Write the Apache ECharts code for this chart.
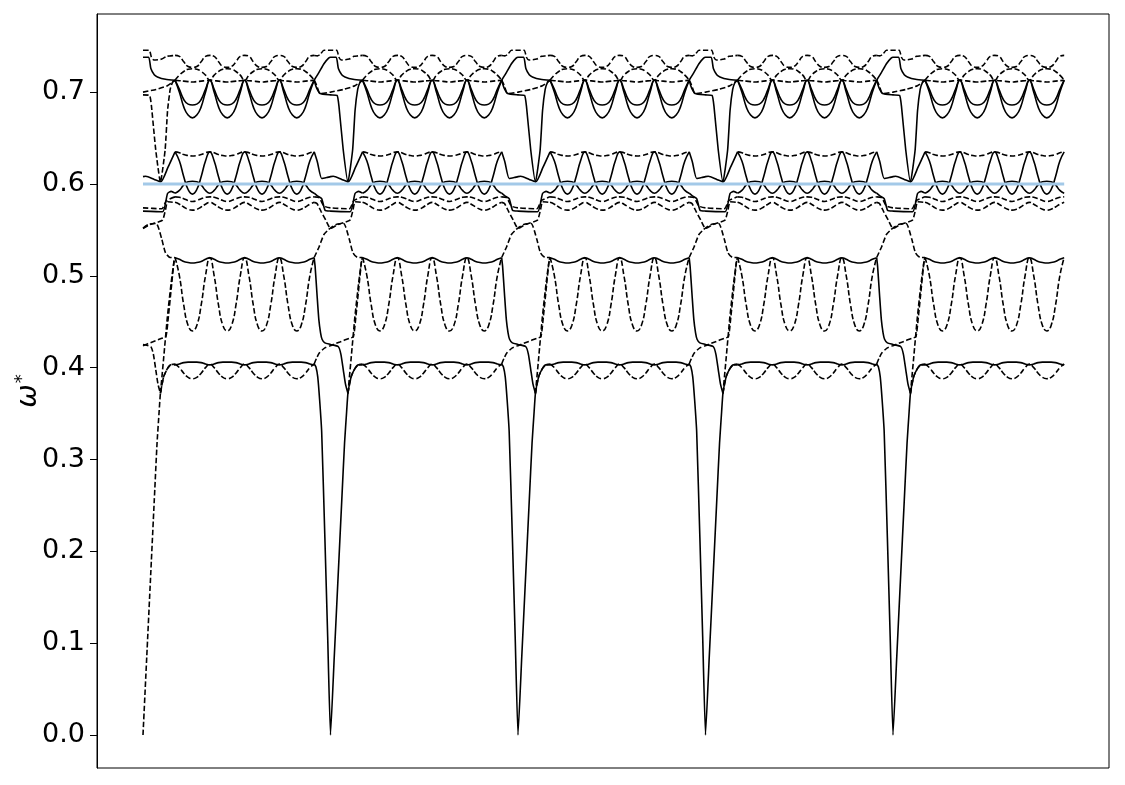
<!DOCTYPE html>
<html><head><meta charset="utf-8">
<script src="https://cdn.jsdelivr.net/npm/echarts@6/dist/echarts.min.js"></script>
<style>html,body{margin:0;padding:0;background:#fff}#c{width:1125px;height:785px}</style>
</head><body><div id="c"></div>
<script>
// Path coordinate: one unit = one repeat of the k-path; the path passes a zero at each start.
const periodStarts = [0, 1, 2, 3, 4];
const pathEnd = 4.913;
const yTicks = [0, 0.1, 0.2, 0.3, 0.4, 0.5, 0.6, 0.7];
const refLevel = 0.6;

// Flat stretch after each zero: 4 cycles between touching nodes
const flatStart = 0.171;
const cycleLength = 0.1855;
const cycleCount = 4;
const cycleFractions = [0, 0.125, 0.25, 0.375, 0.5, 0.625, 0.75, 0.875];

// Values read at cycleFractions within one cycle (same in every cycle)
const topHump   = [0.740, 0.739, 0.733, 0.728, 0.727, 0.728, 0.733, 0.739];
const topArch   = [0.713, 0.7185, 0.7225, 0.725, 0.7255, 0.725, 0.7225, 0.7185];
const topFlat   = [0.713, 0.7125, 0.712, 0.7115, 0.711, 0.7115, 0.712, 0.7125];
const innerU    = [0.713, 0.703, 0.692, 0.687, 0.686, 0.687, 0.692, 0.703];
const outerU    = [0.713, 0.700, 0.684, 0.675, 0.672, 0.675, 0.684, 0.700];
const upperDash = [0.635, 0.634, 0.632, 0.631, 0.6305, 0.631, 0.632, 0.634];
const peaks63   = [0.635, 0.625, 0.608, 0.594, 0.589, 0.594, 0.608, 0.625];
const arches60  = [0.590, 0.593, 0.599, 0.6025, 0.603, 0.6025, 0.599, 0.593];
const dash585   = [0.586, 0.5855, 0.584, 0.582, 0.581, 0.582, 0.584, 0.5855];
const dash575   = [0.580, 0.578, 0.575, 0.5725, 0.5715, 0.5725, 0.575, 0.578];
const band52    = [0.5196, 0.518, 0.5155, 0.5145, 0.514, 0.5145, 0.5155, 0.518];
const dips52    = [0.520, 0.500, 0.468, 0.446, 0.440, 0.446, 0.468, 0.500];
const band40    = [0.403, 0.404, 0.4055, 0.406, 0.406, 0.406, 0.4055, 0.404];
const dips40    = [0.404, 0.400, 0.394, 0.3895, 0.388, 0.3895, 0.394, 0.400];

// Transition stretch around each zero: [path coordinate relative to the zero, value]
const trTopDash   = [[-0.087,0.740],[-0.07,0.7395],[-0.055,0.741],[-0.035,0.7457],[0,0.7457],[0.033,0.7457],[0.045,0.738],[0.058,0.735],[0.1,0.736],[0.125,0.739],[0.148,0.7395],[0.171,0.740]];
const trTopSolid  = [[-0.087,0.713],[-0.06,0.722],[-0.035,0.731],[-0.01,0.737],[0,0.738],[0.03,0.738],[0.042,0.7257],[0.06,0.719],[0.077,0.7166],[0.12,0.714],[0.171,0.713]];
const trDrop      = [[-0.087,0.713],[-0.075,0.705],[-0.055,0.6985],[0,0.697],[0.035,0.6965],[0.045,0.685],[0.068,0.637],[0.093,0.602],[0.118,0.637],[0.131,0.68],[0.145,0.703],[0.158,0.711],[0.171,0.713]];
const trShelf     = [[-0.087,0.713],[-0.075,0.708],[-0.055,0.6985],[0,0.700],[0.07,0.703],[0.13,0.707],[0.171,0.713]];
const trPeaks     = [[-0.087,0.635],[-0.07,0.624],[-0.047,0.606],[-0.02,0.607],[0,0.608],[0.015,0.6085],[0.06,0.605],[0.095,0.6024],[0.133,0.618],[0.171,0.635]];
const trArches    = [[-0.087,0.590],[-0.07,0.587],[-0.047,0.584],[-0.029,0.5715],[0,0.5705],[0.104,0.5697],[0.131,0.5897],[0.15,0.592],[0.171,0.590]];
const trDash585   = [[-0.087,0.586],[-0.06,0.585],[-0.035,0.576],[0,0.574],[0.1,0.573],[0.125,0.582],[0.171,0.586]];
const trDash575   = [[-0.087,0.580],[-0.072,0.5788],[-0.05,0.57],[-0.025,0.5605],[0,0.5516],[0.04,0.556],[0.104,0.5606],[0.12,0.572],[0.131,0.5806],[0.171,0.580]];
const trHub       = [[-0.087,0.520],[-0.06,0.532],[-0.035,0.545],[-0.01,0.5505],[0,0.552],[0.03,0.556],[0.07,0.557],[0.1,0.54],[0.12,0.525],[0.145,0.520],[0.171,0.520]];
const trAcoustic  = [[-0.087,0.404],[-0.078,0.401],[-0.068,0.39],[-0.058,0.365],[-0.047,0.33],[-0.03,0.215],[-0.015,0.107],[0,0],[0.02,0.085],[0.04,0.17],[0.06,0.255],[0.075,0.318],[0.086,0.352],[0.093,0.372],[0.11,0.39],[0.13,0.399],[0.148,0.403],[0.171,0.403]];
const trPlateau   = [[-0.087,0.5196],[-0.082,0.51],[-0.072,0.48],[-0.062,0.452],[-0.053,0.438],[-0.045,0.431],[-0.03,0.427],[0,0.4253],[0.042,0.4228],[0.055,0.415],[0.068,0.398],[0.08,0.382],[0.093,0.372]];
const trCuspRise  = [[0.093,0.372],[0.11,0.41],[0.13,0.455],[0.15,0.492],[0.165,0.515],[0.171,0.520]];
const trShelf42   = [[-0.087,0.404],[-0.075,0.41],[-0.06,0.416],[-0.03,0.4215],[0,0.424],[0.05,0.428],[0.1,0.432],[0.122,0.4336],[0.135,0.455],[0.15,0.485],[0.166,0.517],[0.171,0.520]];
const trCuspTo40  = [[0.093,0.372],[0.11,0.39],[0.13,0.399],[0.148,0.403],[0.171,0.404]];

const DASH = [5.5, 2.5];
const series = [];

function flatPoints(profile) {
  const pts = [];
  for (let c = 0; c < cycleCount; c++) {
    cycleFractions.forEach((f, j) => pts.push([flatStart + (c + f) * cycleLength, profile[j]]));
  }
  pts.push([flatStart + cycleCount * cycleLength, profile[0]]);
  return pts;
}

// dashed: style in every period; firstDashed: style override for the opening period
function addLine(pts, dashed, smooth, firstDashed) {
  periodStarts.forEach((k, i) => {
    const data = pts.map(p => [p[0] + k, p[1]])
      .filter(p => p[0] >= -1e-9 && p[0] <= pathEnd + 1e-9);
    if (data.length < 2) return;
    const d = (i === 0 && firstDashed !== undefined) ? firstDashed : dashed;
    series.push({
      type: 'line', data, symbol: 'none', smooth, silent: true, z: 2,
      lineStyle: { color: '#000', width: 1.6, type: d ? DASH : 'solid' }
    });
  });
}

// flat stretches
addLine(flatPoints(topHump), true, 0.5);
addLine(flatPoints(topArch), true, 0.5);
addLine(flatPoints(topFlat), true, 0.5);
addLine(flatPoints(innerU), false, 0.5);
addLine(flatPoints(outerU), false, 0.5);
addLine(flatPoints(upperDash), true, 0.5);
addLine(flatPoints(peaks63), false, 0.5);
addLine(flatPoints(arches60), false, 0.5);
addLine(flatPoints(dash585), true, 0.5);
addLine(flatPoints(dash575), true, 0.5);
addLine(flatPoints(band52), false, 0.5);
addLine(flatPoints(dips52), true, 0.5);
addLine(flatPoints(band40), false, 0.5);
addLine(flatPoints(dips40), true, 0.5);

// transitions
addLine(trTopDash, true, 0.2);
addLine(trTopSolid, false, 0.2);
addLine(trDrop, false, 0.15, true);
addLine(trShelf, true, 0.2);
addLine(trPeaks, false, 0.2);
addLine(trArches, false, 0.2);
addLine(trDash585, true, 0.2);
addLine(trDash575, true, 0.15);
addLine(trHub, true, 0.2);
addLine(trAcoustic, false, 0.15, true);
addLine(trPlateau, false, 0.2, true);
addLine(trCuspRise, true, 0.2);
addLine(trShelf42, true, 0.2);
addLine(trCuspTo40, true, 0.2);

// reference level
series.push({
  type: 'line', data: [[0, refLevel], [pathEnd, refLevel]], symbol: 'none', silent: true, z: 5,
  lineStyle: { color: '#a3c9e8', width: 3 }
});

const chart = echarts.init(document.getElementById('c'), null, { renderer: 'canvas' });
chart.setOption({
  animation: false,
  backgroundColor: '#fff',
  grid: { left: 97, right: 16, top: 14, bottom: 17, show: true, borderColor: '#000', borderWidth: 1, backgroundColor: 'transparent', outerBoundsMode: 'none', containLabel: false },
  xAxis: { type: 'value', min: -0.2453, max: 5.152, show: false },
  yAxis: {
    type: 'value', min: -0.0359, max: 0.7851,
    axisLine: { show: true, onZero: false, lineStyle: { color: '#000', width: 1 } },
    axisTick: { show: true, inside: false, length: 7, lineStyle: { color: '#000', width: 1 }, customValues: yTicks },
    axisLabel: { show: true, customValues: yTicks, formatter: v => v.toFixed(1), fontSize: 27, color: '#000', fontFamily: 'DejaVu Sans', margin: 12 },
    splitLine: { show: false },
    name: '{w|ω}{s|*}', nameLocation: 'middle', nameRotate: 90, nameGap: 52, nameMoveOverlap: false,
    nameTextStyle: {
      rich: {
        w: { fontSize: 28, fontStyle: 'italic', fontFamily: 'DejaVu Sans', color: '#000' },
        s: { fontSize: 18, fontFamily: 'DejaVu Sans', color: '#000', verticalAlign: 'top', padding: [0, 0, 14, 1] }
      }
    }
  },
  series
});
</script>
</body></html>
